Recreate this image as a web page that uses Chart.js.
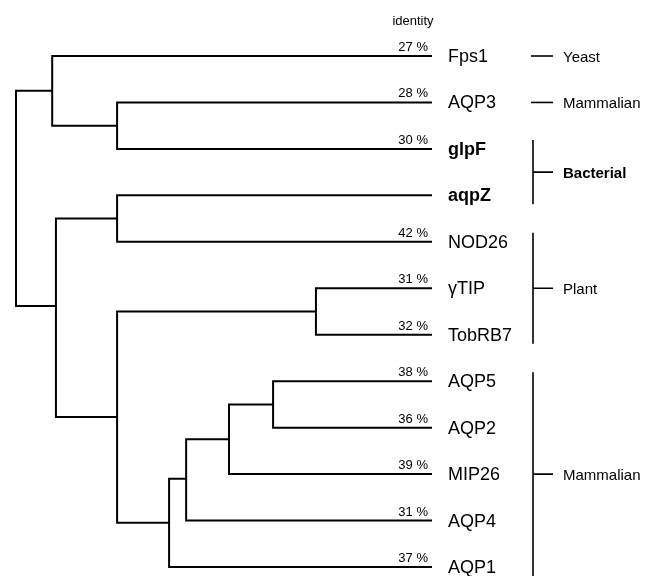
<!DOCTYPE html>
<html>
<head>
<meta charset="utf-8">
<script src="https://cdn.jsdelivr.net/npm/chart.js@4/dist/chart.umd.min.js"></script>
<style>
  html, body { margin:0; padding:0; background:#fff; }
  #wrap { width:648px; height:576px; position:relative; }
</style>
</head>
<body>
<div id="wrap"><canvas id="tree"></canvas></div>
<script>
'use strict';

// ── data ─────────────────────────────────────────
// leaves, top to bottom
const leafNames = ['Fps1','AQP3','glpF','aqpZ','NOD26','γTIP','TobRB7','AQP5','AQP2','MIP26','AQP4','AQP1'];
const identity  = [27, 28, 30, null, 42, 31, 32, 38, 36, 39, 31, 37];

// internal nodes: two children, depth from root (leaves = 100), row position
const nodeIds   = ['J','I','H','G','F','E','C','B','D','A','root'];
const nodeLeft  = ['AQP5','J','I','H','γTIP','F','aqpZ','AQP3','C','Fps1','A'];
const nodeRight = ['AQP2','MIP26','AQP4','AQP1','TobRB7','G','NOD26','glpF','E','B','D'];
const nodeDepth = [61.8, 51.2, 40.9, 36.8, 72.1, 24.3, 24.3, 24.3, 9.6, 8.7, 0];
const nodeRow   = [7.5, 8.25, 9.1, 10.05, 5.5, 7.77, 3.5, 1.5, 5.38, 0.75, 3.0];

// groups on the right
const groupNames = ['Yeast','Mammalian','Bacterial','Plant','Mammalian'];
const groupFirst = [0, 1, 2, 4, 7];
const groupLast  = [0, 1, 3, 6, 11];

const LEAF_DEPTH = 100;
const boldText = new Set(['glpF','aqpZ','Bacterial']);
const FONT = '"Liberation Sans", Arial, Helvetica, sans-serif';
const INK = '#000';

function pos(id) {
  const li = leafNames.indexOf(id);
  if (li >= 0) return { x: LEAF_DEPTH, y: li };
  const k = nodeIds.indexOf(id);
  return { x: nodeDepth[k], y: nodeRow[k] };
}

// one ']' shaped path per internal node
const datasets = nodeIds.map((id, k) => {
  const L = pos(nodeLeft[k]), R = pos(nodeRight[k]), d = nodeDepth[k];
  return {
    label: id,
    data: [ {x:L.x, y:L.y}, {x:d, y:L.y}, {x:d, y:R.y}, {x:R.x, y:R.y} ],
    showLine: true, pointRadius: 0, borderColor: INK, borderWidth: 2,
    tension: 0, clip: false, fill: false
  };
});

// ── labels, identities, group brackets ───────────
const labelPlugin = {
  id: 'dendroLabels',
  afterDatasetsDraw(chart) {
    const { ctx, scales: { x, y } } = chart;
    const tipX = x.getPixelForValue(LEAF_DEPTH);
    ctx.save();
    ctx.fillStyle = INK;
    ctx.strokeStyle = INK;
    ctx.textBaseline = 'alphabetic';

    ctx.font = `13px ${FONT}`;
    ctx.textAlign = 'center';
    ctx.fillText('identity', tipX - 19, 25);

    leafNames.forEach((name, i) => {
      const py = y.getPixelForValue(i);
      if (identity[i] != null) {
        ctx.font = `13px ${FONT}`;
        ctx.textAlign = 'right';
        ctx.fillText(identity[i] + ' %', tipX - 4, py - 5);
      }
      ctx.font = `${boldText.has(name) ? 'bold ' : ''}18px ${FONT}`;
      ctx.textAlign = 'left';
      ctx.fillText(name, tipX + 16, py + 6);
    });

    const bx = tipX + 101;
    ctx.lineWidth = 1.6;
    groupNames.forEach((g, k) => {
      const y0 = y.getPixelForValue(groupFirst[k]);
      const y1 = y.getPixelForValue(groupLast[k]);
      const mid = (y0 + y1) / 2;
      ctx.beginPath();
      if (y1 > y0) {
        ctx.moveTo(bx, y0 - 9);
        ctx.lineTo(bx, y1 + 9);
        ctx.moveTo(bx, mid);
      } else {
        ctx.moveTo(bx - 2, mid);
      }
      ctx.lineTo(bx + 20, mid);
      ctx.stroke();
      ctx.font = `${boldText.has(g) ? 'bold ' : ''}15px ${FONT}`;
      ctx.textAlign = 'left';
      ctx.fillText(g, bx + 30, mid + 5.5);
    });
    ctx.restore();
  }
};

new Chart(document.getElementById('tree'), {
  type: 'scatter',
  data: { datasets },
  options: {
    responsive: true, maintainAspectRatio: false, animation: false,
    layout: { padding: { left: 16, right: 216, top: 56, bottom: 9 } },
    plugins: { legend: { display: false }, tooltip: { enabled: false } },
    scales: {
      x: { type: 'linear', min: 0, max: LEAF_DEPTH, display: false },
      y: { type: 'linear', min: 0, max: leafNames.length - 1, reverse: true, display: false }
    }
  },
  plugins: [labelPlugin]
});
</script>
</body>
</html>
